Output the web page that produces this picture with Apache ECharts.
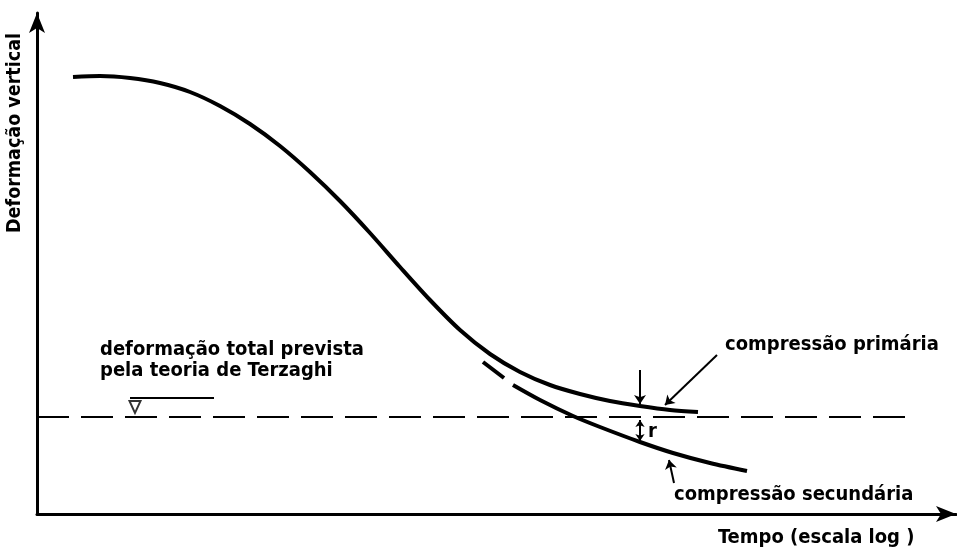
<!DOCTYPE html>
<html>
<head>
<meta charset="utf-8">
<title>Deformação vertical x Tempo</title>
<script src="https://cdn.jsdelivr.net/npm/echarts@6/dist/echarts.min.js"></script>
<style>
  html, body { margin: 0; padding: 0; background: #fff; }
  #chart { width: 957px; height: 551px; }
</style>
</head>
<body>
<div id="chart"></div>
<script>
// pontos (x = tempo, y = deformação, unidades do desenho)
const primaryCurve = [
  [36, 437], [63, 438], [93, 436], [123, 431], [153, 422], [183, 408],
  [213, 390], [243, 368], [273, 342], [303, 313], [333, 281], [363, 247],
  [393, 214], [423, 184], [453, 160], [483, 142], [513, 129], [543, 120],
  [573, 113], [603, 108], [633, 104], [661, 102]
];
const secondaryDash = [[446, 152], [467, 136]];
const secondaryCurve = [
  [476, 129], [503, 114], [536, 98], [563, 87], [603, 72], [636, 61],
  [673, 51], [710, 43]
];
const terzaghiLine = [[0, 97], [879, 97]];
const terzaghiBar = [[93, 116], [177, 116]];
const terzaghiMark = [[98, 107]];

// setas de anotação
const singleArrows = [
  [[603, 144], [603, 110]],   // seta vertical sobre a curva primária
  [[680, 159], [628, 109]],   // seta "compressão primária"
  [[637, 31], [632, 54]]      // seta "compressão secundária"
];
const doubleArrows = [
  [[603, 94], [603, 73]]      // distância r
];

const textFont = "DejaVu Sans Condensed, Liberation Sans Narrow, DejaVu Sans, sans-serif";

function label(text, x, y, size, weight, rot) {
  return {
    type: 'text', x: x, y: y, rotation: rot || 0,
    style: {
      text: text, fill: '#000',
      fontSize: size, fontFamily: textFont, fontWeight: weight || 'normal',
      align: rot ? 'center' : 'left', verticalAlign: 'middle'
    }
  };
}

const chart = echarts.init(document.getElementById('chart'));

const option = {
  backgroundColor: '#fff',
  animation: false,
  grid: { left: 37, right: 1, top: 13, bottom: 37 },
  xAxis: {
    type: 'value',
    min: 0,
    max: 919,
    axisLine: {
      show: true,
      symbol: ['none', 'arrow'],
      symbolSize: [12, 20],
      lineStyle: { color: '#000', width: 3 }
    },
    axisTick: { show: false },
    axisLabel: { show: false },
    splitLine: { show: false }
  },
  yAxis: {
    type: 'value',
    min: 0,
    max: 501,
    axisLine: {
      show: true,
      symbol: ['none', 'arrow'],
      symbolSize: [12, 20],
      lineStyle: { color: '#000', width: 3 }
    },
    axisTick: { show: false },
    axisLabel: { show: false },
    splitLine: { show: false }
  },
  series: [
    {
      name: 'compressão primária',
      type: 'line',
      data: primaryCurve,
      smooth: 0.3,
      showSymbol: false,
      lineStyle: { color: '#000', width: 4 }
    },
    {
      name: 'secundária (traço)',
      type: 'line',
      data: secondaryDash,
      showSymbol: false,
      lineStyle: { color: '#000', width: 4 }
    },
    {
      name: 'compressão secundária',
      type: 'line',
      data: secondaryCurve,
      smooth: 0.3,
      showSymbol: false,
      lineStyle: { color: '#000', width: 4 }
    },
    {
      name: 'Terzaghi',
      type: 'line',
      data: terzaghiLine,
      showSymbol: false,
      lineStyle: { color: '#000', width: 2, type: [32, 12] }
    },
    {
      name: 'Terzaghi barra',
      type: 'line',
      data: terzaghiBar,
      showSymbol: false,
      lineStyle: { color: '#000', width: 2 }
    },
    {
      name: 'nível',
      type: 'scatter',
      data: terzaghiMark,
      symbol: 'triangle',
      symbolRotate: 180,
      symbolSize: [11, 12],
      itemStyle: { color: '#fff', borderColor: '#000', borderWidth: 2 }
    },
    {
      type: 'lines',
      coordinateSystem: 'cartesian2d',
      data: singleArrows.map(c => ({ coords: c })),
      symbol: ['none', 'arrow'],
      symbolSize: 9,
      lineStyle: { color: '#000', width: 2, opacity: 1 }
    },
    {
      type: 'lines',
      coordinateSystem: 'cartesian2d',
      data: doubleArrows.map(c => ({ coords: c })),
      symbol: ['arrow', 'arrow'],
      symbolSize: 7,
      lineStyle: { color: '#000', width: 2, opacity: 1 }
    }
  ],
  graphic: [
    label('Deformação vertical', 15, 133, 19.5, 'bold', Math.PI / 2),
    label('deformação total prevista', 100, 350, 20, 'bold'),
    label('pela teoria de Terzaghi', 100, 371, 20, 'bold'),
    label('compressão primária', 725, 345, 20, 'bold'),
    label('compressão secundária', 674, 495, 20, 'bold'),
    label('Tempo (escala log )', 718, 538, 20, 'bold'),
    label('r', 648, 432, 20, 'bold')
  ]
};

chart.setOption(option);
</script>
</body>
</html>
